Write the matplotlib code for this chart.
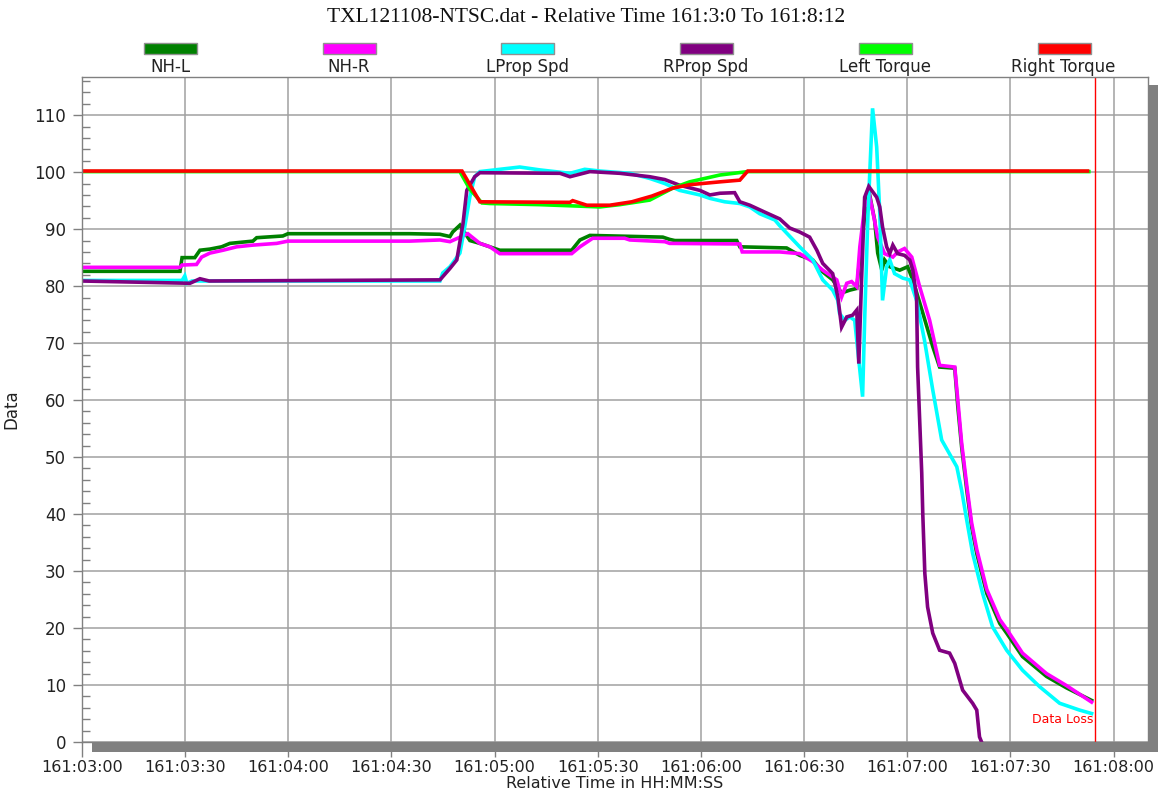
import matplotlib
matplotlib.use("Agg")
import matplotlib.pyplot as plt
from matplotlib.patches import Rectangle
from matplotlib.ticker import MultipleLocator, FixedLocator

plt.rcParams['font.family'] = ['DejaVu Sans']

# time in seconds after 161:03:00
names = ["NH-L", "NH-R", "LProp Spd", "RProp Spd", "Left Torque", "Right Torque"]
colors = ["#008000", "#ff00ff", "#00ffff", "#800080", "#00ff00", "#ff0000"]

nhl_t = [0, 28.5, 29.1, 32.8, 34.3, 37.2, 40.6, 43.0, 49.7, 50.8, 58.4, 59.9, 95.3, 104.1,
         107.0, 107.8, 109.9, 112.8, 115.7, 118.6, 121.5, 142.4, 144.8, 147.7, 168.9, 170.9,
         172.4, 190.4, 191.3, 204.9, 208.7, 212.5, 215.4, 218.3, 220.9, 223.3, 225.3, 226.7,
         228.2, 228.8, 230.5, 231.4, 232.6, 233.4, 234.9, 237.8, 240.1, 241.6, 244.5, 247.4,
         249.4, 253.8, 254.7, 255.8, 257.3, 258.7, 260.2, 263.1, 266.9, 268.9, 273.5, 280.5,
         286.3, 293.6]
nhl_v = [82.6, 82.6, 85.0, 85.0, 86.3, 86.5, 86.9, 87.5, 87.9, 88.5, 88.8, 89.2, 89.2, 89.1,
         88.7, 89.5, 90.7, 88.0, 87.5, 86.9, 86.3, 86.3, 88.1, 88.9, 88.6, 88.2,
         88.0, 88.0, 86.9, 86.7, 85.4, 84.6, 82.5, 81.1, 78.8, 79.3, 79.6, 88.0,
         95.0, 96.8, 91.6, 85.8, 82.8, 84.6, 83.4, 82.8, 83.4, 81.1, 75.3, 69.4,
         65.8, 65.6, 58.8, 51.8, 44.2, 37.8, 33.1, 26.1, 20.8, 19.1, 15.0, 11.5,
         9.5, 7.3]

nhr_t = [0, 28.5, 29.1, 33.3, 34.8, 37.2, 41.0, 45.0, 49.7, 56.6, 59.9, 95.3, 104.1, 107.0,
         112.2, 115.7, 118.6, 121.5, 142.4, 144.8, 148.5, 157.8, 159.3, 169.5, 170.9, 191.3,
         192.0, 202.9, 208.7, 212.5, 215.4, 219.5, 220.9, 222.4, 223.8, 225.3, 226.2, 227.6,
         229.1, 229.9, 231.4, 233.4, 235.8, 237.2, 239.2, 241.3, 243.6, 246.5, 249.4, 253.8,
         254.7, 255.8, 257.3, 258.7, 260.2, 263.1, 266.9, 268.9, 273.5, 280.5, 286.3, 293.6]
nhr_v = [83.3, 83.3, 83.7, 83.8, 85.1, 85.8, 86.3, 86.9, 87.2, 87.5, 87.9, 87.9, 88.1, 87.8,
         89.2, 87.5, 86.9, 85.7, 85.7, 86.9, 88.4, 88.4, 88.1, 87.8, 87.5, 87.4,
         86.0, 86.0, 85.7, 84.3, 82.8, 81.1, 78.1, 80.5, 80.8, 79.9, 86.9, 93.9,
         95.6, 93.3, 88.6, 85.7, 85.1, 86.0, 86.6, 85.1, 79.9, 74.0, 66.1, 65.8,
         60.0, 52.5, 45.0, 38.5, 33.8, 26.8, 21.5, 19.8, 15.6, 12.0, 9.9, 7.0]

lps_t = [0, 29.1, 29.9, 30.5, 32.0, 104.1, 104.9, 107.0, 109.9, 111.3, 112.8, 114.2, 115.7,
         121.5, 127.3, 133.1, 141.9, 146.2, 150.6, 159.3, 165.1, 169.5, 173.8, 179.7, 182.6,
         186.9, 191.3, 194.2, 197.1, 201.5, 202.9, 208.7, 212.5, 215.4, 218.3, 219.8, 220.3,
         221.8, 223.3, 224.7, 227.0, 227.6, 228.5, 229.9, 231.1, 232.0, 232.8, 234.0, 234.9,
         236.3, 238.7, 240.7, 242.7, 245.0, 247.4, 250.0, 254.4, 255.8, 257.3, 259.0, 261.9,
         264.8, 268.9, 273.5, 278.5, 284.3, 290.1, 293.6]
lps_v = [81.0, 81.0, 81.8, 80.5, 80.9, 80.9, 82.3, 83.4, 85.8, 90.4, 95.7, 99.2, 100.1,
         100.5, 100.9, 100.4, 99.8, 100.5, 100.2, 99.8, 98.9, 98.0, 96.8, 96.0, 95.4,
         94.8, 94.5, 93.9, 92.7, 91.6, 90.6, 86.9, 84.6, 81.1, 79.3, 77.5, 75.2,
         74.0, 74.6, 74.0, 60.6, 74.0, 91.6, 111.2, 104.4, 92.8, 77.5, 83.4, 84.6,
         82.2, 81.4, 81.1, 77.5, 70.5, 61.8, 53.0, 48.3, 44.2, 38.9, 33.1, 26.1,
         20.2, 16.1, 12.6, 9.7, 6.8, 5.6, 5.0]

rps_t = [0, 31.4, 34.3, 37.0, 104.1, 107.0, 109.0, 110.8, 111.9, 114.2, 115.7, 139.0, 141.9,
         147.7, 156.4, 165.1, 169.5, 173.8, 179.7, 182.6, 185.5, 189.8, 191.3, 194.2, 198.5,
         202.9, 205.8, 208.7, 211.6, 213.7, 215.4, 218.3, 219.8, 220.9, 222.4, 224.1, 225.3,
         225.9, 226.7, 227.6, 228.8, 231.1, 232.0, 232.8, 234.0, 234.9, 235.8, 237.2, 239.2,
         240.7, 241.6, 242.7, 243.0, 243.6, 244.2, 244.5, 245.1, 245.9, 247.4, 249.4, 252.3,
         253.8, 256.1, 259.0, 260.2, 261.0, 261.6]
rps_v = [80.9, 80.5, 81.3, 80.9, 81.1, 83.1, 84.6, 91.0, 96.8, 99.2, 99.9, 99.8, 99.2,
         100.1, 99.8, 99.2, 98.7, 97.7, 96.8, 96.0, 96.3, 96.4, 94.8, 94.2, 93.0,
         91.8, 90.2, 89.5, 88.6, 86.3, 84.0, 82.2, 78.1, 72.8, 74.6, 74.9, 75.8,
         66.4, 81.1, 95.6, 97.5, 95.6, 93.9, 90.4, 86.9, 85.7, 87.2, 85.7, 85.4,
         84.6, 82.8, 78.1, 65.8, 56.5, 47.2, 40.1, 29.6, 23.7, 19.1, 16.1, 15.6,
         13.8, 9.1, 6.8, 5.6, 0.9, 0.0]

ltq_t = [0, 109.9, 112.8, 116.3, 118.6, 133.1, 141.9, 150.6, 156.4, 165.1, 171.8, 176.7,
         185.5, 193.6, 292.8]
ltq_v = [100.1, 100.1, 97.0, 94.6, 94.5, 94.3, 94.1, 93.9, 94.3, 95.1, 97.2, 98.3,
         99.5, 100.1, 100.1]

rtq_t = [0, 110.5, 115.7, 141.9, 142.7, 146.8, 153.5, 159.9, 165.7, 171.8, 176.7, 185.5,
         191.3, 193.6, 292.4]
rtq_v = [100.2, 100.2, 94.8, 94.7, 95.0, 94.2, 94.2, 94.8, 95.8, 97.2, 97.8, 98.3,
         98.6, 100.2, 100.2]

series = [(nhl_t, nhl_v), (nhr_t, nhr_v), (lps_t, lps_v), (rps_t, rps_v),
          (ltq_t, ltq_v), (rtq_t, rtq_v)]

tick_secs = list(range(0, 301, 30))
tick_labels = ["161:03:00", "161:03:30", "161:04:00", "161:04:30", "161:05:00", "161:05:30",
               "161:06:00", "161:06:30", "161:07:00", "161:07:30", "161:08:00"]
data_loss_t = 294.5

W, H = 1161, 799
fig = plt.figure(figsize=(W / 100, H / 100), dpi=100)
fig.patch.set_facecolor("white")

L, B, R, T = 82, 742, 1148, 77  # axes box in pixels (top-left origin)
ax_rect = [L / W, 1 - B / H, (R - L) / W, (B - T) / H]

# drop shadow behind the plot area
fig.patches.append(Rectangle((ax_rect[0] + 10 / W, ax_rect[1] - 10 / H), ax_rect[2], ax_rect[3] + 2 / H,
                             transform=fig.transFigure, facecolor="#808080", edgecolor="none",
                             zorder=0))

ax = fig.add_axes(ax_rect)
ax.set_facecolor("white")
ax.set_zorder(1)

for (t, v), c in zip(series, colors):
    ax.plot(t, v, color=c, lw=2.6, solid_joinstyle="miter")

ax.axvline(data_loss_t, color="#ff0000", lw=1)
ax.text(data_loss_t - 0.3, 4.0, "Data Loss", color="#ff0000", fontsize=9,
        ha="right", va="center")

ax.set_xlim(0, 310)
ax.set_ylim(0, 116.7)
ax.xaxis.set_major_locator(FixedLocator(tick_secs))
ax.set_xticklabels(tick_labels)
ax.yaxis.set_major_locator(MultipleLocator(10))
ax.yaxis.set_minor_locator(MultipleLocator(2))
ax.grid(True, which="major", color="#a0a0a0", lw=1.1)
ax.set_axisbelow(True)

ax.tick_params(axis="x", which="major", direction="out", length=11, width=1,
               color="#808080", labelsize=11.5, labelcolor="#222222", pad=2)
ax.tick_params(axis="y", which="major", direction="out", length=6.5, width=1,
               color="#808080", labelsize=12, labelcolor="#222222", pad=5)
ax.tick_params(axis="y", which="minor", direction="in", length=6, width=1, color="#808080")
for s in ax.spines.values():
    s.set_color("#808080")
    s.set_linewidth(1)

ax.set_xlabel("Relative Time in HH:MM:SS", fontsize=11.5, color="#222222", labelpad=1)
ax.set_ylabel("Data", fontsize=12, color="#222222", labelpad=10)

fig.text(0.505, 1 - 18 / H, "TXL121108-NTSC.dat - Relative Time 161:3:0 To 161:8:12",
         family="Liberation Serif", fontsize=15.5, ha="center", va="center", color="#111111")

# legend row across the top
for i, (name, c) in enumerate(zip(names, colors)):
    cx = 170 + i * 178.7
    fig.patches.append(Rectangle(((cx - 26) / W, 1 - 54 / H), 53 / W, 11 / H,
                                 transform=fig.transFigure, facecolor=c,
                                 edgecolor="#909090", lw=1))
    fig.text(cx / W, 1 - 67 / H, name, fontsize=12, ha="center", va="center", color="#222222")

fig.savefig("out.png", dpi=100)
